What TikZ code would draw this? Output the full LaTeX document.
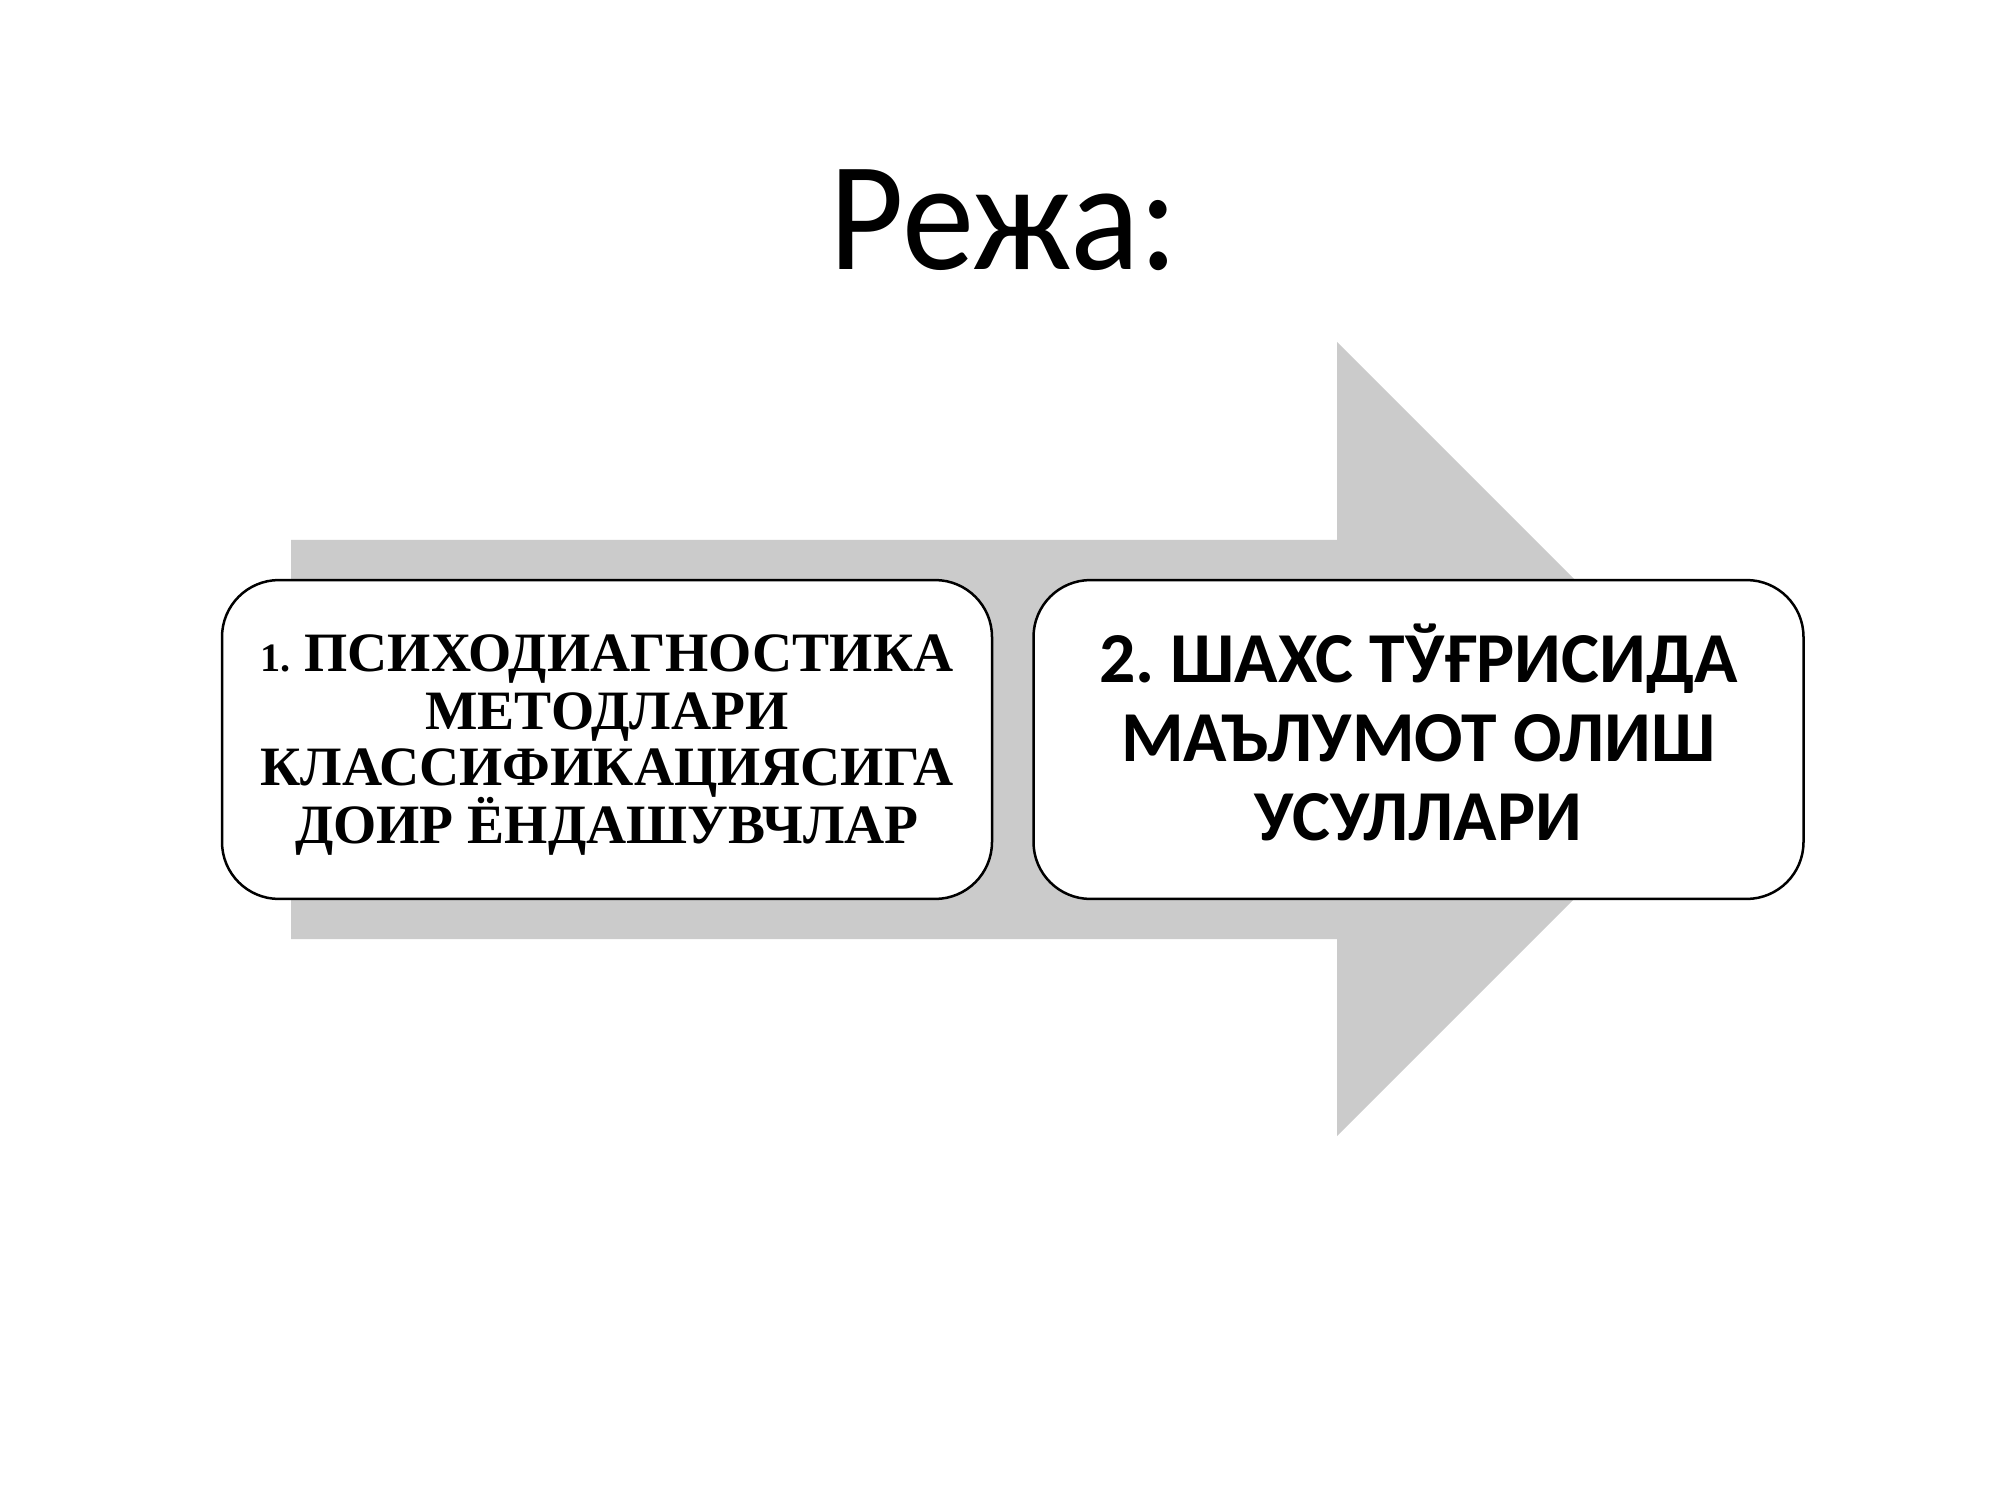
\documentclass[tikz,border=0pt]{standalone}
\usepackage{fontspec}
\setmainfont{Liberation Serif}
\newfontfamily\titlefont{Carlito}
\newfontfamily\boxsans{Carlito}[BoldFont={Carlito Bold}]
\newfontfamily\boxserif{Liberation Serif}
\definecolor{arrowgray}{HTML}{CBCBCB}
\begin{document}
\frenchspacing
\begin{tikzpicture}[x=0.36pt,y=-0.36pt,
  planbox/.style={draw=black, line width=0.9pt, fill=white, rounded corners=20.5pt,
    minimum width=277.2pt, minimum height=114.8pt, inner sep=0pt},
  serifline/.style={anchor=base, inner sep=0pt, font=\boxserif\bfseries\fontsize{20pt}{20.3pt}\selectfont},
  sansline/.style={anchor=base, inner sep=0pt, font=\boxsans\bfseries\fontsize{25.8pt}{28.8pt}\selectfont},
  bigarrow/.style={fill=arrowgray, draw=none}]
\useasboundingbox (0,0) rectangle (2000,1500);
\fill[white] (0,0) rectangle (2000,1500);
\node[anchor=base, inner sep=0pt, font=\titlefont\fontsize{56pt}{56pt}\selectfont] (title) at (1004,270) {\scalebox{0.93}[1]{Режа:}};
\path[bigarrow] (291,540) -- (1337,540) -- (1337,342) -- (1734,739) -- (1337,1136) -- (1337,939) -- (291,939) -- cycle;
\node[planbox] (box1) at (607,739.5) {};
\node[planbox] (box2) at (1418.5,739.5) {};
\node[serifline] (b1a) at (607,671) {{\fontsize{14.5pt}{14.5pt}\selectfont 1.} ПСИХОДИАГНОСТИКА};
\node[serifline] (b1b) at (607,729) {МЕТОДЛАРИ};
\node[serifline] (b1c) at (607,785.5) {КЛАССИФИКАЦИЯСИГА};
\node[serifline] (b1d) at (607,843) {ДОИР ЁНДАШУВЧЛАР};
\node[sansline] (b2a) at (1418.5,682) {2. ШАХС ТЎҒРИСИДА};
\node[sansline] (b2b) at (1418.5,761) {МАЪЛУМОТ ОЛИШ};
\node[sansline] (b2c) at (1418.5,840) {УСУЛЛАРИ};
\end{tikzpicture}
\end{document}
